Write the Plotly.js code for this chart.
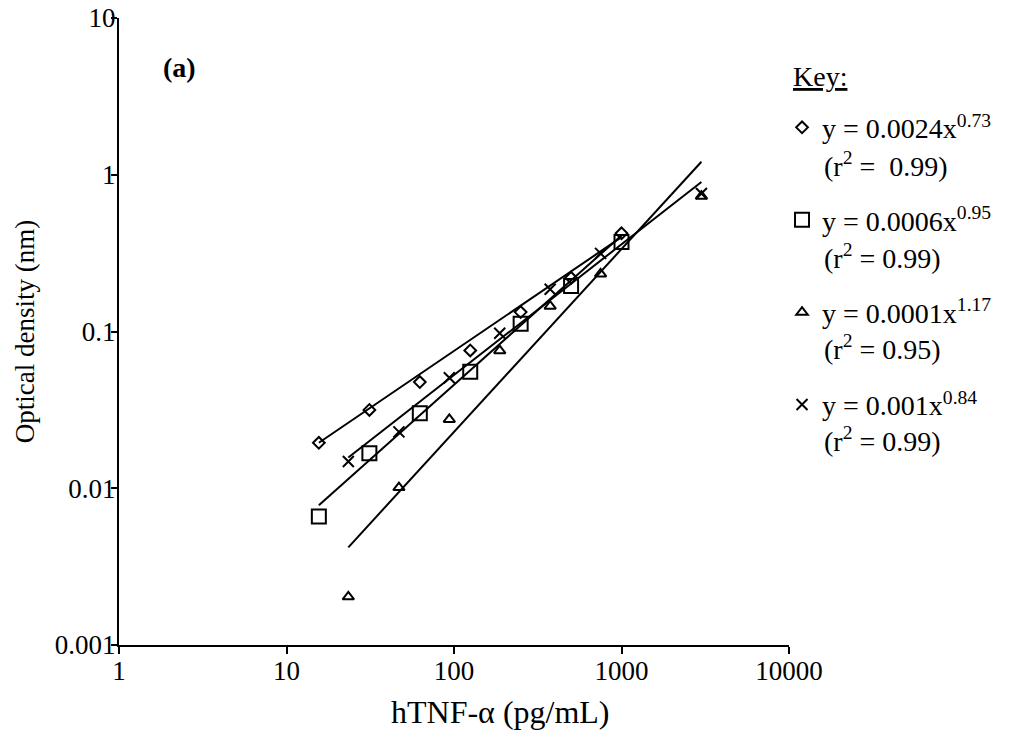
<!DOCTYPE html>
<html>
<head>
<meta charset="utf-8">
<script src="https://cdn.plot.ly/plotly-3.0.1.min.js"></script>
<style>html,body{margin:0;padding:0;background:#fff;}#chart{width:1017px;height:755px;}</style>
</head>
<body>
<div id="chart"></div>
<script>
// Data
const diamondX = [15.6, 31.25, 62.5, 125, 250, 500, 1000];
const diamondY = [0.0195, 0.0316, 0.0476, 0.0757, 0.133, 0.220, 0.423];
const squareX = [15.6, 31.25, 62.5, 125, 250, 500, 1000];
const squareY = [0.0066, 0.0167, 0.0301, 0.0554, 0.112, 0.195, 0.372];
const triangleX = [23.4, 46.9, 93.75, 187.5, 375, 750, 3000];
const triangleY = [0.00203, 0.0101, 0.0275, 0.0754, 0.145, 0.233, 0.73];
const crossX = [23.4, 46.9, 93.75, 187.5, 375, 750, 3000];
const crossY = [0.0148, 0.0229, 0.0507, 0.0975, 0.186, 0.315, 0.76];

// fitted line end points
const diamondFitX = [15.6, 1000];
const diamondFitY = [0.0195, 0.40];
const squareFitX = [15.6, 1000];
const squareFitY = [0.0078, 0.41];
const triangleFitX = [23.4, 3000];
const triangleFitY = [0.0042, 1.21];
const crossFitX = [23.4, 3000];
const crossFitY = [0.0157, 0.90];

const equationLabels = [
  'y = 0.0024x<sup>0.73</sup>',
  'y = 0.0006x<sup>0.95</sup>',
  'y = 0.0001x<sup>1.17</sup>',
  'y = 0.001x<sup>0.84</sup>'
];
const r2Labels = [
  '(r<sup>2</sup> =  0.99)',
  '(r<sup>2</sup> = 0.99)',
  '(r<sup>2</sup> = 0.95)',
  '(r<sup>2</sup> = 0.99)'
];
const xTickVals = [1, 10, 100, 1000, 10000];
const xTickText = ['1', '10', '100', '1000', '10000'];
const yTickVals = [0.001, 0.01, 0.1, 1, 10];
const yTickText = ['0.001', '0.01', '0.1', '1', '10'];

const FONT = 'Liberation Serif, Times New Roman, serif';
const black = '#000';

function pts(x, y, sym, size, name, group) {
  return {type: 'scatter', mode: 'markers', x: x, y: y, name: name,
    legendgroup: group, cliponaxis: false,
    marker: {symbol: sym, size: size, color: black, line: {color: black, width: 2}}};
}
function fit(x, y, group) {
  return {type: 'scatter', mode: 'lines', x: x, y: y, showlegend: false,
    legendgroup: group, hoverinfo: 'skip',
    line: {color: black, width: 2}};
}

const data = [
  fit(diamondFitX, diamondFitY, 'd'),
  fit(squareFitX, squareFitY, 's'),
  fit(triangleFitX, triangleFitY, 't'),
  fit(crossFitX, crossFitY, 'c'),
  pts(diamondX, diamondY, 'diamond-open', 9, equationLabels[0], 'd'),
  pts(squareX, squareY, 'square-open', 14, equationLabels[1], 's'),
  pts(triangleX, triangleY, 'triangle-up-open', 10, equationLabels[2], 't'),
  pts(crossX, crossY, 'x-thin-open', 11, equationLabels[3], 'c')
];

// r-squared lines sit under each legend entry
const r2Y = [0.7656, 0.6204, 0.4737, 0.3270];
const annotations = r2Labels.map((t, i) => ({
  text: t, xref: 'paper', yref: 'paper', x: 1.0493, y: r2Y[i],
  xanchor: 'left', yanchor: 'middle', showarrow: false, font: {size: 28}
}));
annotations.push(
  {text: '<u>Key:</u>', xref: 'paper', yref: 'paper', x: 1.003, y: 0.906,
   xanchor: 'left', yanchor: 'middle', showarrow: false, font: {size: 28}},
  {text: '<b>(a)</b>', xref: 'paper', yref: 'paper', x: 0.063, y: 0.921,
   xanchor: 'left', yanchor: 'middle', showarrow: false, font: {size: 28}},
  {text: 'hTNF-α (pg/mL)', xref: 'paper', yref: 'paper', x: 0.570, y: -0.107,
   xanchor: 'center', yanchor: 'middle', showarrow: false, font: {size: 32}}
);

const layout = {
  width: 1017, height: 755,
  margin: {l: 119, r: 228, t: 18, b: 110},
  paper_bgcolor: '#fff', plot_bgcolor: '#fff',
  font: {family: FONT, size: 26, color: black},
  showlegend: true,
  legend: {
    x: 0.9896, xanchor: 'left', y: 0.865, yanchor: 'top',
    font: {size: 28},
    traceorder: 'grouped', tracegroupgap: 53, valign: 'middle',
    bgcolor: 'rgba(0,0,0,0)', borderwidth: 0
  },
  xaxis: {
    type: 'log', range: [0, 4],
    tickmode: 'array', tickvals: xTickVals, ticktext: xTickText,
    ticks: 'outside', ticklen: 7, tickwidth: 2, tickcolor: black,
    showline: true, linewidth: 2, linecolor: black,
    showgrid: false, zeroline: false, ticklabelstandoff: -6,
    tickfont: {size: 27}
  },
  yaxis: {
    type: 'log', range: [-3, 1],
    tickmode: 'array', tickvals: yTickVals, ticktext: yTickText,
    ticks: 'outside', ticklen: 6, tickwidth: 2, tickcolor: black,
    showline: true, linewidth: 2, linecolor: black,
    showgrid: false, zeroline: false, ticklabelstandoff: -10,
    tickfont: {size: 27},
    title: {text: 'Optical density (nm)', font: {size: 27}, standoff: 12}
  },
  annotations: annotations
};

Plotly.newPlot('chart', data, layout, {displayModeBar: false, staticPlot: true});
</script>
</body>
</html>
